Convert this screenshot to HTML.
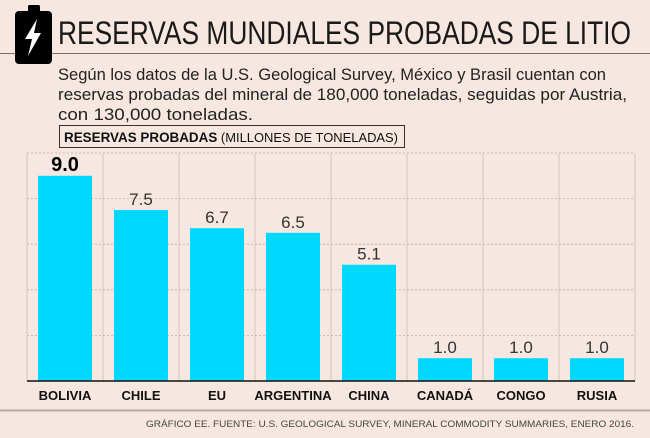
<!DOCTYPE html>
<html><head><meta charset="utf-8">
<style>
html,body{margin:0;padding:0;background:#f6e8e0;}
body{width:650px;height:433px;overflow:hidden;position:relative;font-family:"Liberation Sans","DejaVu Sans",sans-serif;}
</style></head>
<body>
<svg id="chart" width="650" height="433" xmlns="http://www.w3.org/2000/svg">
  <rect width="650" height="433" fill="#f6e8e0"/>
  <line x1="0" y1="53.5" x2="650" y2="53.5" stroke="#7a6e68" stroke-width="1"/>
  <g>
    <rect x="28" y="5" width="12" height="8" rx="1.5" fill="#000"/>
    <rect x="15" y="11" width="37" height="53" rx="4" fill="#000"/>
    <path d="M37 19 L25 39 L32 39 L28 56 L41 33 L34 33 Z" fill="#fff"/>
  </g>
  <text x="58" y="44" font-size="32" fill="#1a1a1a" textLength="573" lengthAdjust="spacingAndGlyphs">RESERVAS MUNDIALES PROBADAS DE LITIO</text>
  <g font-size="16.5" fill="#222">
    <text x="58" y="80" textLength="548" lengthAdjust="spacingAndGlyphs">Según los datos de la U.S. Geological Survey, México y Brasil cuentan con</text>
    <text x="58" y="100" textLength="569" lengthAdjust="spacingAndGlyphs">reservas probadas del mineral de 180,000 toneladas, seguidas por Austria,</text>
    <text x="58" y="120" textLength="195" lengthAdjust="spacingAndGlyphs">con 130,000 toneladas.</text>
  </g>
  <rect x="59.5" y="125.5" width="345" height="22" fill="none" stroke="#333" stroke-width="1"/>
  <text x="64" y="142" font-size="13" fill="#111" textLength="334" lengthAdjust="spacingAndGlyphs"><tspan font-weight="bold" font-size="13.5">RESERVAS PROBADAS</tspan> <tspan font-size="13">(MILLONES DE TONELADAS)</tspan></text>
  <g id="grid"></g>
  <g id="bars"></g>
  <line x1="27" y1="381" x2="635" y2="381" stroke="#111" stroke-width="1.5"/>
  <g id="xlabels"></g>
  <line x1="0" y1="410.5" x2="650" y2="410.5" stroke="#b5aaa4" stroke-width="2"/>
  <text x="634" y="427" font-size="9.5" fill="#444" text-anchor="end" textLength="488" lengthAdjust="spacingAndGlyphs">GRÁFICO EE. FUENTE: U.S. GEOLOGICAL SURVEY, MINERAL COMMODITY SUMMARIES, ENERO 2016.</text>
</svg>
<script>
const categories = ["BOLIVIA","CHILE","EU","ARGENTINA","CHINA","CANADÁ","CONGO","RUSIA"];
const values = [9.0, 7.5, 6.7, 6.5, 5.1, 1.0, 1.0, 1.0];
const valueLabels = ["9.0","7.5","6.7","6.5","5.1","1.0","1.0","1.0"];
const gridTicks = [2, 4, 6, 8, 10];

const NS = "http://www.w3.org/2000/svg";
const plotLeft = 27, plotRight = 635, baseY = 381, pxPerUnit = 22.8;
const colW = (plotRight - plotLeft) / categories.length;
function yScale(v){ return baseY - v * pxPerUnit; }
function xBand(i){ return plotLeft + i * colW; }

const grid = document.getElementById('grid');
gridTicks.forEach(t => {
  const l = document.createElementNS(NS,'line');
  l.setAttribute('x1', plotLeft); l.setAttribute('x2', plotRight);
  l.setAttribute('y1', yScale(t)); l.setAttribute('y2', yScale(t));
  l.setAttribute('stroke', '#b8aca6'); l.setAttribute('stroke-dasharray', '2,2'); l.setAttribute('stroke-width', '0.8');
  
  
  grid.appendChild(l);
});
for (let i = 0; i <= categories.length; i++) {
  const l = document.createElementNS(NS,'line');
  l.setAttribute('x1', xBand(i)); l.setAttribute('x2', xBand(i));
  l.setAttribute('y1', yScale(gridTicks[gridTicks.length-1])); l.setAttribute('y2', baseY);
  l.setAttribute('stroke', '#d3c6bf'); l.setAttribute('stroke-width', '1');
  
  
  grid.appendChild(l);
}

const bars = document.getElementById('bars');
const xl = document.getElementById('xlabels');
const barW = 54;
categories.forEach((c, i) => {
  const cx = xBand(i) + colW / 2;
  const r = document.createElementNS(NS,'rect');
  r.setAttribute('x', cx - barW/2); r.setAttribute('width', barW);
  r.setAttribute('y', yScale(values[i])); r.setAttribute('height', baseY - yScale(values[i]));
  r.setAttribute('fill', '#00d8ff');
  
  
  bars.appendChild(r);

  const vt = document.createElementNS(NS,'text');
  vt.setAttribute('x', cx); vt.setAttribute('y', yScale(values[i]) - 5);
  vt.setAttribute('text-anchor', 'middle');
  vt.setAttribute('fill', '#333');
  if (i === 0) { vt.setAttribute('font-size', '20'); vt.setAttribute('font-weight', 'bold'); vt.setAttribute('fill', '#000'); }
  else { vt.setAttribute('font-size', '17'); }
  vt.textContent = valueLabels[i];
  
  
  bars.appendChild(vt);

  const t = document.createElementNS(NS,'text');
  t.setAttribute('x', cx); t.setAttribute('y', 400);
  t.setAttribute('text-anchor', 'middle');
  t.setAttribute('font-size', '13'); t.setAttribute('font-weight', 'bold'); t.setAttribute('fill', '#111');
  t.textContent = c;
  
  
  xl.appendChild(t);
});
</script>
</body></html>
